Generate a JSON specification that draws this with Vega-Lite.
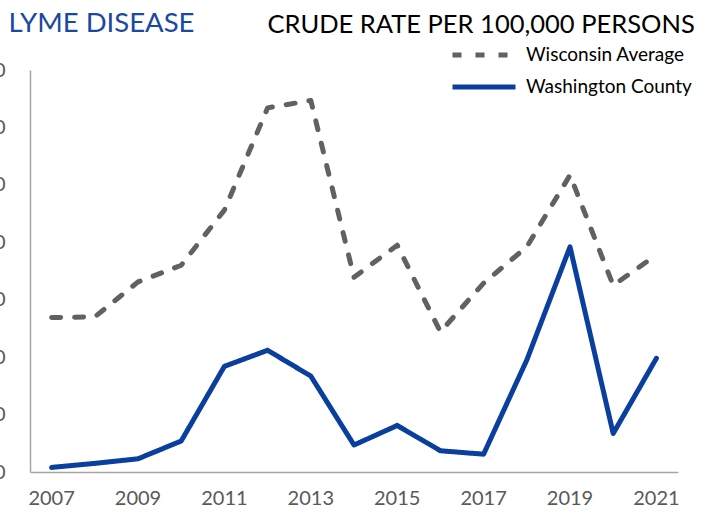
{
  "$schema": "https://vega.github.io/schema/vega-lite/v6.json",
  "autosize": "none",
  "width": 648,
  "height": 402,
  "padding": {"left": 30, "top": 70, "right": 37, "bottom": 46},
  "background": "white",
  "config": {"view": {"stroke": null}, "font": "Lato"},
  "data": {
    "values": [
      {"year": "2007", "series": "Wisconsin Average", "rate": 26.9},
      {"year": "2008", "series": "Wisconsin Average", "rate": 27.0},
      {"year": "2009", "series": "Wisconsin Average", "rate": 33.1},
      {"year": "2010", "series": "Wisconsin Average", "rate": 36.0},
      {"year": "2011", "series": "Wisconsin Average", "rate": 45.6},
      {"year": "2012", "series": "Wisconsin Average", "rate": 63.4},
      {"year": "2013", "series": "Wisconsin Average", "rate": 64.7},
      {"year": "2014", "series": "Wisconsin Average", "rate": 33.9},
      {"year": "2015", "series": "Wisconsin Average", "rate": 39.5},
      {"year": "2016", "series": "Wisconsin Average", "rate": 24.4},
      {"year": "2017", "series": "Wisconsin Average", "rate": 32.9},
      {"year": "2018", "series": "Wisconsin Average", "rate": 39.2},
      {"year": "2019", "series": "Wisconsin Average", "rate": 51.7},
      {"year": "2020", "series": "Wisconsin Average", "rate": 32.5},
      {"year": "2021", "series": "Wisconsin Average", "rate": 37.8},
      {"year": "2007", "series": "Washington County", "rate": 0.8},
      {"year": "2008", "series": "Washington County", "rate": 1.5},
      {"year": "2009", "series": "Washington County", "rate": 2.3},
      {"year": "2010", "series": "Washington County", "rate": 5.4},
      {"year": "2011", "series": "Washington County", "rate": 18.4},
      {"year": "2012", "series": "Washington County", "rate": 21.2},
      {"year": "2013", "series": "Washington County", "rate": 16.7},
      {"year": "2014", "series": "Washington County", "rate": 4.7},
      {"year": "2015", "series": "Washington County", "rate": 8.1},
      {"year": "2016", "series": "Washington County", "rate": 3.7},
      {"year": "2017", "series": "Washington County", "rate": 3.1},
      {"year": "2018", "series": "Washington County", "rate": 19.5},
      {"year": "2019", "series": "Washington County", "rate": 39.2},
      {"year": "2020", "series": "Washington County", "rate": 6.7},
      {"year": "2021", "series": "Washington County", "rate": 19.8}
    ]
  },
  "mark": {"type": "line", "strokeWidth": 5, "strokeCap": "round", "strokeJoin": "round"},
  "encoding": {
    "x": {
      "field": "year",
      "type": "ordinal",
      "scale": {"type": "band", "paddingInner": 0, "paddingOuter": 0},
      "axis": {
        "values": ["2007", "2009", "2011", "2013", "2015", "2017", "2019", "2021"],
        "labelAngle": 0,
        "ticks": false,
        "labelPadding": 16,
        "labelFont": "Lato",
        "labelFontSize": 20,
        "labelColor": "#595959",
        "domainColor": "#a6a6a6",
        "domainWidth": 1.5,
        "grid": false,
        "title": "LYME DISEASE",
        "titleX": -22,
        "titleY": -441,
        "titleAlign": "left",
        "titleAnchor": null,
        "titleBaseline": "alphabetic",
        "titleFont": "Lato",
        "titleFontSize": 27.5,
        "titleFontWeight": "normal",
        "titleColor": "#1b48a0"
      }
    },
    "y": {
      "field": "rate",
      "type": "quantitative",
      "scale": {"domain": [0, 70], "nice": false, "zero": true},
      "axis": {
        "values": [0, 10, 20, 30, 40, 50, 60, 70],
        "ticks": false,
        "grid": false,
        "labelPadding": 25,
        "labelFont": "Lato",
        "labelFontSize": 20,
        "labelColor": "#595959",
        "domainColor": "#a6a6a6",
        "domainWidth": 1.5,
        "title": "CRUDE RATE PER 100,000 PERSONS",
        "titleAngle": 0,
        "titleX": 237,
        "titleY": -38,
        "titleAlign": "left",
        "titleBaseline": "alphabetic",
        "titleFont": "Lato",
        "titleFontSize": 25.5,
        "titleFontWeight": "normal",
        "titleColor": "#000000"
      }
    },
    "color": {
      "field": "series",
      "type": "nominal",
      "scale": {"domain": ["Wisconsin Average", "Washington County"], "range": ["#636060", "#0a3f9e"]},
      "legend": {
        "title": null,
        "orient": "none",
        "legendX": 441,
        "legendY": -28,
        "symbolType": "M-3,0H3",
        "symbolSize": 441,
        "symbolStrokeWidth": 5,
        "labelFont": "Lato",
        "labelFontSize": 19,
        "labelColor": "#000000",
        "labelOffset": 29,
        "labelLimit": 300,
        "rowPadding": 9
      }
    },
    "strokeDash": {
      "field": "series",
      "type": "nominal",
      "scale": {"domain": ["Wisconsin Average", "Washington County"], "range": [[9, 14], [1, 0]]},
      "legend": null
    }
  }
}
